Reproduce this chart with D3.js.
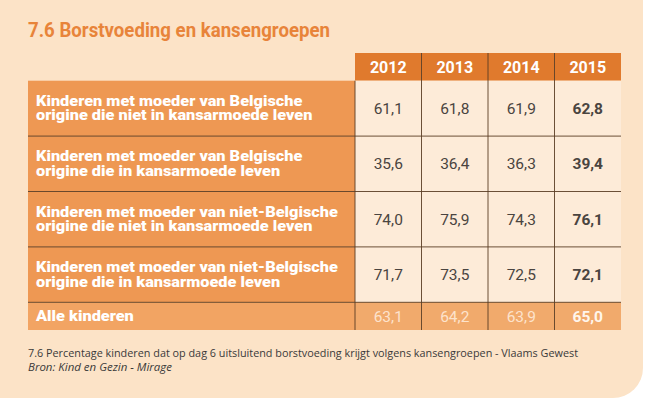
<!DOCTYPE html>
<html><head><meta charset="utf-8">
<script src="https://cdn.jsdelivr.net/npm/d3@7"></script>
<style>html,body{margin:0;padding:0;background:#fff;}svg{display:block;}</style>
</head><body>
<script>
const title = "7.6 Borstvoeding en kansengroepen";
const years = ["2012","2013","2014","2015"];
const rowLabels = [
  ["Kinderen met moeder van Belgische","origine die niet in kansarmoede leven"],
  ["Kinderen met moeder van Belgische","origine die in kansarmoede leven"],
  ["Kinderen met moeder van niet-Belgische","origine die niet in kansarmoede leven"],
  ["Kinderen met moeder van niet-Belgische","origine die in kansarmoede leven"],
  ["Alle kinderen"]
];
const v2012 = [61.1, 35.6, 74.0, 71.7, 63.1];
const v2013 = [61.8, 36.4, 75.9, 73.5, 64.2];
const v2014 = [61.9, 36.3, 74.3, 72.5, 63.9];
const v2015 = [62.8, 39.4, 76.1, 72.1, 65.0];
const caption = "7.6 Percentage kinderen dat op dag 6 uitsluitend borstvoeding krijgt volgens kansengroepen - Vlaams Gewest";
const source = "Bron: Kind en Gezin - Mirage";

const series = [v2012, v2013, v2014, v2015];
const W = 650, H = 404;
const svg = d3.select("body").append("svg").attr("width", W).attr("height", H);

// panel
svg.append("rect").attr("x", -30).attr("y", -30).attr("width", 673).attr("height", 428)
  .attr("rx", 30).attr("fill", "#fce3c7");
svg.append("rect").attr("x", -30).attr("y", -30).attr("width", 40).attr("height", 60).attr("fill", "#fce3c7");

svg.append("text").attr("x", 28).attr("y", 37).text(title)
  .attr("font-family", "Roboto").attr("font-weight", "bold").attr("font-size", 20)
  .attr("fill", "#e8843a").attr("textLength", 302).attr("lengthAdjust", "spacingAndGlyphs");

// scales
const x = d3.scaleBand().domain(years).range([355, 621]);
const labelX0 = 28;
// row extents in "line units": header 1, groups 2 each, total 1
const units = [1].concat(rowLabels.map(r => r.length));
const cum = [0]; units.forEach(u => cum.push(cum[cum.length-1] + u));
const y = d3.scaleLinear().domain([0, cum[cum.length-1]]).range([53, 330]);

const fmt = v => d3.format(".1f")(v).replace(".", ",");
const font = "Roboto";

// header
const g = svg.append("g");
g.selectAll("rect.h").data(years).join("rect")
  .attr("x", d => x(d)).attr("y", y(0)).attr("width", x.bandwidth()).attr("height", y(1) - y(0))
  .attr("fill", "#e07a2d");
g.selectAll("text.h").data(years).join("text")
  .attr("x", d => x(d) + x.bandwidth()/2).attr("y", (y(0)+y(1))/2 + 6)
  .attr("text-anchor", "middle").attr("fill", "#fff").attr("font-family", font)
  .attr("font-weight", "bold").attr("font-size", 16).text(d => d);

rowLabels.forEach((lines, i) => {
  const y0 = y(cum[i+1]), y1 = y(cum[i+2]);
  const isTotal = i === rowLabels.length - 1;
  g.append("rect").attr("x", labelX0).attr("y", y0).attr("width", x.range()[0] - labelX0).attr("height", y1 - y0)
    .attr("fill", isTotal ? "#f2a463" : "#ee9853");
  const lh = 14.5;
  const cy = (y0 + y1)/2;
  lines.forEach((t, k) => {
    const tx = g.append("text").attr("x", 36).attr("y", cy + 4.8 + (k - (lines.length-1)/2) * lh)
      .attr("fill", "#fff").attr("font-family", font).attr("font-weight", 900).attr("font-size", 14)
      .text(t);
    const nat = tx.node().getComputedTextLength();
    tx.attr("textLength", nat * 1.165).attr("lengthAdjust", "spacingAndGlyphs");
  });
  years.forEach((yr, j) => {
    g.append("rect").attr("x", x(yr)).attr("y", y0).attr("width", x.bandwidth()).attr("height", y1 - y0)
      .attr("fill", isTotal ? "#f1aa6c" : "#fdebd8");
    g.append("text").attr("x", x(yr) + x.bandwidth()/2).attr("y", cy + 5.5)
      .attr("text-anchor", "middle").attr("font-family", font).attr("font-size", 15.5)
      .attr("font-weight", j === 3 ? "bold" : "normal")
      .attr("fill", isTotal ? (j === 3 ? "#fff6ec" : "#fde3cc") : "#4a4440")
      .text(fmt(series[j][i]));
  });
});

// grid lines
const lineCol = "#5a3d25";
for (let i = 2; i < cum.length - 1; i++) {
  g.append("line").attr("x1", labelX0).attr("x2", x.range()[1]).attr("y1", y(cum[i])).attr("y2", y(cum[i]))
    .attr("stroke", lineCol).attr("stroke-width", 0.9);
}
years.forEach((yr, j) => {
  g.append("line").attr("x1", x(yr)).attr("x2", x(yr)).attr("y1", j === 0 ? y(1) : y(0)).attr("y2", y(cum[cum.length-1]))
    .attr("stroke", lineCol).attr("stroke-width", 0.9);
});

svg.append("text").attr("x", 28).attr("y", 357).text(caption)
  .attr("font-family", "Open Sans").attr("font-size", 11.5).attr("fill", "#3a3a3a")
  .attr("textLength", 550).attr("lengthAdjust", "spacingAndGlyphs");
svg.append("text").attr("x", 28).attr("y", 371).text(source)
  .attr("font-family", "Open Sans").attr("font-style", "italic").attr("font-size", 11.5).attr("fill", "#3a3a3a")
  .attr("textLength", 144).attr("lengthAdjust", "spacingAndGlyphs");
</script>
</body></html>
